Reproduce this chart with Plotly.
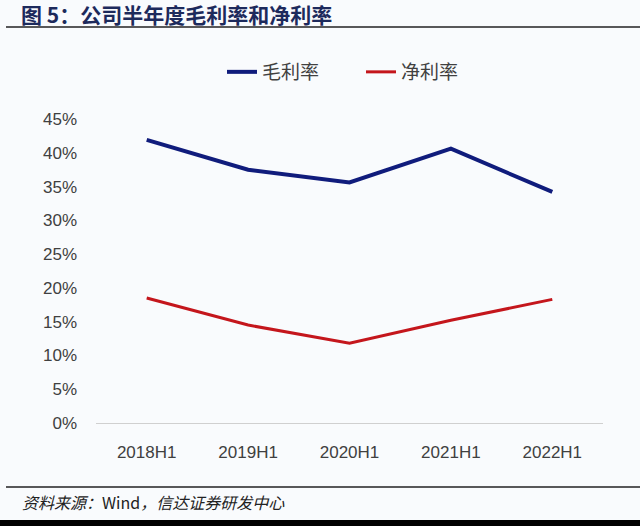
import plotly.graph_objects as go

categories = ["2018H1", "2019H1", "2020H1", "2021H1", "2022H1"]
gross_margin = [41.9, 37.5, 35.6, 40.6, 34.2]
net_margin = [18.5, 14.5, 11.8, 15.2, 18.3]
y_ticks = [0, 5, 10, 15, 20, 25, 30, 35, 40, 45]
y_tick_labels = [f"{v}%" for v in y_ticks]

W, H = 640, 526
ML, MR, MT, MB = 96, 37, 119, 103
pw = W - ML - MR
ph = H - MT - MB

def px_x(p):
    return (p - ML) / pw

def px_y(p):
    return (H - MB - p) / ph

fig = go.Figure()
fig.add_trace(go.Scatter(x=categories, y=gross_margin, mode="lines", name="毛利率",
                         line=dict(color="#101c7c", width=4)))
fig.add_trace(go.Scatter(x=categories, y=net_margin, mode="lines", name="净利率",
                         line=dict(color="#c4161c", width=3)))

font_family = "Noto Sans CJK SC, Noto Sans, sans-serif"
tick_family = "Liberation Sans, Arial, sans-serif"

fig.update_layout(
    width=W, height=H,
    margin=dict(l=ML, r=MR, t=MT, b=MB),
    paper_bgcolor="#f9fbfd", plot_bgcolor="#f9fbfd",
    font=dict(family=font_family, color="#404040", size=16),
    showlegend=True,
    legend=dict(orientation="h", x=px_x(222), xanchor="left", y=px_y(72), yanchor="middle",
                font=dict(size=19, color="#404040"), entrywidth=94, entrywidthmode="pixels",
                bgcolor="rgba(0,0,0,0)"),
    xaxis=dict(type="category", showgrid=False, showline=True, linecolor="#d0d0d0", linewidth=1,
               ticks="", tickfont=dict(size=17, color="#404040", family=tick_family),
               range=[-0.5, 4.5], fixedrange=True, ticklabelstandoff=14),
    yaxis=dict(range=[0, 45], tickvals=y_ticks, ticktext=y_tick_labels, showgrid=False,
               zeroline=False, showline=False, ticks="", tickfont=dict(size=17, color="#404040", family=tick_family),
               ticklabelstandoff=18),
)

# title and footer
fig.add_annotation(xref="paper", yref="paper", x=px_x(19), y=px_y(14), xanchor="left", yanchor="middle",
                   text="<b>图 5：公司半年度毛利率和净利率</b>", showarrow=False,
                   font=dict(size=21, color="#1d2a5c", family=font_family))
fig.add_shape(type="line", xref="paper", yref="paper", x0=px_x(6), x1=px_x(640), y0=px_y(27), y1=px_y(27),
              line=dict(color="#222222", width=1.5))
fig.add_shape(type="line", xref="paper", yref="paper", x0=px_x(6), x1=px_x(640), y0=px_y(487), y1=px_y(487),
              line=dict(color="#222222", width=1.5))
fig.add_annotation(xref="paper", yref="paper", x=px_x(20), y=px_y(502), xanchor="left", yanchor="middle",
                   text="<i>资料来源：</i>Wind<i>，信达证券研发中心</i>", showarrow=False,
                   font=dict(size=16, color="#222222", family=font_family))
fig.add_shape(type="rect", xref="paper", yref="paper", x0=px_x(0), x1=px_x(640), y0=px_y(520), y1=px_y(530),
              line=dict(width=0), fillcolor="#000000")

fig.write_html("out.html")
